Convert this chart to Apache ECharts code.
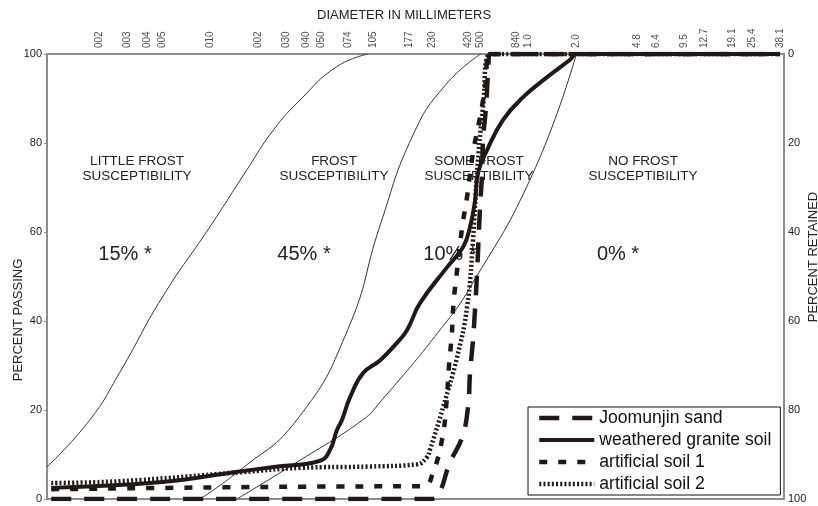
<!DOCTYPE html>
<html lang="en">
<head>
<meta charset="UTF-8">
<title>frost susceptibility</title>
<style>
  html, body { margin: 0; padding: 0; background: #fff; }
  #chart { width: 818px; height: 506px; }
</style>
</head>
<body>
<div id="chart"></div>
<script src="https://cdn.jsdelivr.net/npm/echarts@6/dist/echarts.min.js"></script>
<script>
// sieve sizes (mm) marked along the top edge
const sieveSizes = [0.002, 0.003, 0.004, 0.005, 0.010, 0.020, 0.030, 0.040, 0.050, 0.074, 0.105, 0.177,
  0.250, 0.420, 0.500, 0.840, 1.0, 2.0, 4.8, 6.4, 9.5, 12.7, 19.1, 25.4, 38.1]
const sieveLabels = ['002', '003', '004', '005', '010', '002', '030', '040', '050', '074', '105', '177',
  '230', '420', '500', '840', '1.0', '2.0', '4.8', '6.4', '9.5', '12.7', '19.1', '25.4', '38.1']

// thin boundary curves between frost groups  [diameter mm, percent passing]
const boundaryLittle = [[0.00094, 7.2], [0.00175, 17.8], [0.0027, 28.5], [0.005, 45.4], [0.01, 61.3],
  [0.017, 74], [0.025, 83], [0.037, 89.8], [0.062, 97.1], [0.098, 100]]
const boundaryFrost = [[0.0086, 0], [0.0154, 6.5], [0.035, 17.8], [0.073, 38], [0.117, 61.6],
  [0.188, 81.8], [0.3, 93], [0.5, 100]]
const boundarySome = [[0.0147, 0], [0.037, 8.8], [0.091, 17.8], [0.117, 21.8], [0.278, 38],
  [0.43, 47.6], [1.07, 73.3], [2.0, 100]]

// soil gradation curves
const joomunjin = [[0.001, 0], [0.24, 0], [0.27, 0.8], [0.32, 8.1], [0.383, 13.9], [0.417, 20.7],
  [0.429, 28.3], [0.448, 35.7], [0.462, 43.1], [0.475, 50.8], [0.496, 65.6], [0.511, 73.3],
  [0.518, 80.7], [0.541, 88.1], [0.557, 95.7], [0.574, 100], [38.1, 100]]
const granite = [[0.001, 2.5], [0.005, 3.8], [0.014, 6], [0.025, 7.2], [0.049, 8.6], [0.0565, 11],
  [0.0625, 15.5], [0.0673, 17.8], [0.0756, 22.9], [0.0913, 28.3], [0.117, 31.2], [0.149, 35.1],
  [0.1726, 38], [0.208, 44], [0.308, 52.1], [0.388, 56.6], [0.429, 61.1], [0.462, 67.2],
  [0.482, 73.3], [0.549, 78.4], [0.692, 85.2], [0.925, 90.3], [1.31, 94.8], [1.825, 98.7],
  [2.0, 100], [38.1, 100]]
const artificial1 = [[0.001, 2.2], [0.01, 2.6], [0.05, 2.8], [0.22, 2.9], [0.25, 5.8], [0.286, 13.3],
  [0.305, 21.6], [0.316, 29.7], [0.33, 37.3], [0.338, 44], [0.356, 51.5], [0.383, 61.1],
  [0.411, 67.9], [0.448, 77.8], [0.496, 85.8], [0.534, 92.6], [0.574, 100], [38.1, 100]]
const artificial2 = [[0.001, 3.6], [0.0027, 4], [0.0154, 6], [0.037, 7], [0.1, 7.3], [0.2, 7.8],
  [0.23, 9.4], [0.24, 11], [0.291, 20.7], [0.356, 31.9], [0.411, 43.1], [0.448, 58.2],
  [0.475, 73.3], [0.518, 88.1], [0.574, 100], [38.1, 100]]

const ink = '#231815'
const font = 'Liberation Sans, Arial, sans-serif'

function thin(name, data) {
    return {
        name, type: 'line', data, symbol: 'none', smooth: 0.5, silent: true,
        lineStyle: { color: '#3a3232', width: 1 }, z: 2
    }
}

function thick(name, data, type, width) {
    return {
        name, type: 'line', data, symbol: 'none', smooth: 0.45,
        lineStyle: { color: ink, width, type, cap: 'butt' }, itemStyle: { color: ink }, z: 3
    }
}

function note(text, x, y, size) {
    return {
        type: 'text', x, y, z: 0,
        style: { text, fill: '#222', font: size + 'px ' + font, align: 'center', verticalAlign: 'middle', lineHeight: size + 2 }
    }
}

const chart = echarts.init(document.getElementById('chart'))

chart.setOption({
    animation: false,
    grid: { left: 47, right: 34, top: 54, bottom: 7, show: true, borderColor: '#8c8c8c', borderWidth: 2 },
    xAxis: {
        type: 'log', min: 0.00094, max: 40.4,
        axisLine: { show: false }, axisTick: { show: false }, axisLabel: { show: false }, splitLine: { show: false }
    },
    yAxis: [{
        type: 'value', min: 0, max: 100, interval: 20, position: 'left',
        axisLine: { show: false }, splitLine: { show: false },
        axisTick: { show: true, length: 3, lineStyle: { color: '#8c8c8c' } },
        axisLabel: { margin: 5, fontSize: 11, color: '#222', fontFamily: font }
    }, {
        type: 'value', min: 0, max: 100, interval: 20, position: 'right', inverse: true,
        axisLine: { show: false }, splitLine: { show: false }, axisTick: { show: false },
        axisLabel: { margin: 4, fontSize: 11, color: '#222', fontFamily: font }
    }],
    legend: {
        data: ['Joomunjin sand', 'weathered granite soil', 'artificial soil 1', 'artificial soil 2'],
        orient: 'vertical', left: 528, top: 407,
        backgroundColor: '#fff', borderColor: '#111', borderWidth: 1, padding: [1, 9, 1, 9],
        itemWidth: 55, itemHeight: 14, itemGap: 2,
        itemStyle: { opacity: 0, color: 'transparent', borderWidth: 0 },
        lineStyle: { width: 'inherit' },
        textStyle: { fontSize: 17.6, color: '#111', fontFamily: font, lineHeight: 20 },
        selectedMode: false
    },
    graphic: [
        { type: 'text', left: 317, top: 9, style: { text: 'DIAMETER IN MILLIMETERS', fill: '#222', font: '13px ' + font } },
        { type: 'text', x: 18, y: 320, rotation: Math.PI / 2, style: { text: 'PERCENT PASSING', fill: '#222', font: '13px ' + font, align: 'center', verticalAlign: 'middle' } },
        { type: 'text', x: 813, y: 257, rotation: Math.PI / 2, style: { text: 'PERCENT RETAINED', fill: '#222', font: '13px ' + font, align: 'center', verticalAlign: 'middle' } },
        note('LITTLE FROST\nSUSCEPTIBILITY', 137, 169, 13.5),
        note('FROST\nSUSCEPTIBILITY', 334, 169, 13.5),
        note('SOME FROST\nSUSCEPTIBILITY', 479, 169, 13.5),
        note('NO FROST\nSUSCEPTIBILITY', 643, 169, 13.5),
        note('15% *', 125, 254, 20),
        note('45% *', 304, 254, 20),
        note('10% *', 450, 254, 20),
        note('0% *', 618, 254, 20)
    ],
    series: [
        thin('b1', boundaryLittle),
        thin('b2', boundaryFrost),
        thin('b3', boundarySome),
        thick('Joomunjin sand', joomunjin, [20, 13], 4.5),
        thick('weathered granite soil', granite, 'solid', 4),
        thick('artificial soil 1', artificial1, [8, 11], 4.5),
        thick('artificial soil 2', artificial2, [2, 2.2], 4.5),
        {
            name: 'sieves', type: 'scatter', symbolSize: 0, silent: true, clip: false,
            data: sieveSizes.map((v, i) => [v, 100, sieveLabels[i]]),
            label: {
                show: true, position: 'top', distance: 6, rotate: 90, align: 'left', verticalAlign: 'middle',
                formatter: p => p.data[2], fontSize: 10, color: '#222', fontFamily: font
            }
        }
    ]
})
</script>
</body>
</html>
